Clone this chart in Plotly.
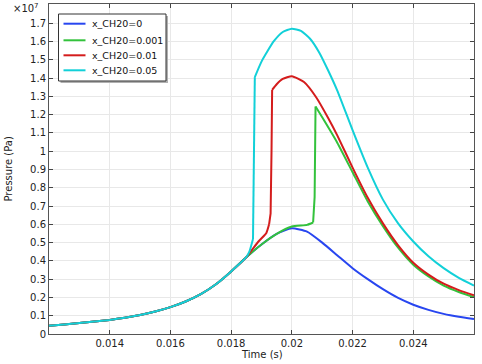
import plotly.graph_objects as go

# Time (s) and pressure (x 1e7 Pa)
t_base = [0.012, 0.0125, 0.013, 0.0135, 0.014, 0.0145, 0.015, 0.0155, 0.016, 0.0165,
          0.017, 0.0175, 0.018, 0.0185]
p_base = [0.045, 0.052, 0.060, 0.068, 0.077, 0.089, 0.104, 0.123, 0.147, 0.178,
          0.218, 0.272, 0.342, 0.420]

t_blue = t_base + [0.019, 0.0195, 0.020, 0.0205, 0.021, 0.0215, 0.022, 0.0225, 0.023,
                   0.0235, 0.024, 0.0245, 0.025, 0.0255, 0.026]
p_blue = p_base + [0.490, 0.548, 0.578, 0.560, 0.500, 0.430, 0.360, 0.300, 0.245,
                   0.197, 0.160, 0.132, 0.110, 0.094, 0.082]

t_green = t_base + [0.019, 0.0195, 0.020, 0.0205, 0.0207, 0.02075, 0.02078, 0.021,
                    0.0215, 0.022, 0.0225, 0.023, 0.0235, 0.024, 0.0245, 0.025, 0.0255, 0.026]
p_green = p_base + [0.490, 0.548, 0.588, 0.597, 0.610, 0.750, 1.244, 1.185,
                    1.045, 0.885, 0.725, 0.590, 0.472, 0.379, 0.315, 0.265, 0.230, 0.202]

t_red = t_base + [0.0189, 0.01916, 0.01925, 0.0193, 0.01933, 0.01935, 0.0195, 0.0197,
                  0.020, 0.0204, 0.0208, 0.0212, 0.0215, 0.022, 0.0225, 0.023, 0.0235,
                  0.024, 0.0245, 0.025, 0.0255, 0.026]
p_red = p_base + [0.506, 0.553, 0.600, 0.660, 1.000, 1.335, 1.366, 1.395,
                  1.410, 1.378, 1.295, 1.180, 1.085, 0.910, 0.745, 0.605, 0.485,
                  0.390, 0.325, 0.275, 0.240, 0.212]

t_cyan = t_base + [0.0186, 0.01872, 0.01876, 0.01878, 0.0190, 0.0194, 0.0197, 0.020,
                   0.0203, 0.0206, 0.0209, 0.0212, 0.0215, 0.022, 0.0225, 0.023, 0.0235,
                   0.024, 0.0245, 0.025, 0.0255, 0.026]
p_cyan = p_base + [0.450, 0.520, 1.000, 1.405, 1.490, 1.600, 1.652, 1.670,
                   1.658, 1.615, 1.540, 1.440, 1.330, 1.115, 0.910, 0.735, 0.605,
                   0.506, 0.425, 0.360, 0.307, 0.265]

# time interval of the steep pressure jump (start, end) for each case; None = no jump
jumps = [None, (0.0207, 0.02078), (0.01925, 0.01935), (0.01872, 0.01878)]

x_ticks = [0.014, 0.016, 0.018, 0.02, 0.022, 0.024]
x_ticktext = ["0.014", "0.016", "0.018", "0.02", "0.022", "0.024"]

names = ["x_CH20=0", "x_CH20=0.001", "x_CH20=0.01", "x_CH20=0.05"]
colors = ["#2846f0", "#33c23c", "#d41c1c", "#12d0d8"]
series = [(t_blue, p_blue), (t_green, p_green), (t_red, p_red), (t_cyan, p_cyan)]

fig = go.Figure()
for (tx, py), nm, c, jp in zip(series, names, colors, jumps):
    if jp is None:
        parts = [(tx, py, "spline")]
    else:
        i0, i1 = tx.index(jp[0]), tx.index(jp[1])
        parts = [(tx[:i0 + 1], py[:i0 + 1], "spline"),
                 (tx[i0:i1 + 1], py[i0:i1 + 1], "linear"),
                 (tx[i1:], py[i1:], "spline")]
    for k, (px, pv, shp) in enumerate(parts):
        fig.add_trace(go.Scatter(x=px, y=pv, mode="lines", name=nm, legendgroup=nm,
                                 showlegend=False,
                                 line=dict(color=c, width=2, shape=shp, smoothing=0.5)))

# Legend box drawn in paper coordinates (COMSOL-style with a drop shadow)
W, H, L, T = 425.0, 330.0, 49.0, 4.0
def px(x):
    return (x - L) / W
def py_(y):
    return (H + T - y) / H

shapes = [
    dict(type="rect", xref="paper", yref="paper", layer="above",
         x0=px(60.5), x1=px(168), y0=py_(83), y1=py_(16),
         fillcolor="#b0b0b0", line=dict(width=0)),
    dict(type="rect", xref="paper", yref="paper", layer="above",
         x0=px(58.5), x1=px(166), y0=py_(81), y1=py_(14),
         fillcolor="white", line=dict(color="#333", width=1)),
]
annots = []
entry_y = [23.7, 40.3, 55.3, 70.3]
for nm, c, ey in zip(names, colors, entry_y):
    shapes.append(dict(type="line", xref="paper", yref="paper", layer="above",
                       x0=px(63.5), x1=px(85.5), y0=py_(ey), y1=py_(ey),
                       line=dict(color=c, width=2)))
    annots.append(dict(text=nm, xref="paper", yref="paper", x=px(90), y=py_(ey),
                       xanchor="left", yanchor="middle", showarrow=False,
                       font=dict(size=9.5, color="#111")))

font = "DejaVu Sans, sans-serif"
axis_common = dict(ticks="inside", ticklen=4, tickcolor="#444", mirror="allticks",
                   showline=True, linecolor="#555", linewidth=1,
                   showgrid=True, gridcolor="#e8e8e8", zeroline=False, automargin=False)
fig.update_layout(
    width=482, height=364,
    margin=dict(l=49, r=8, t=4, b=30),
    paper_bgcolor="white", plot_bgcolor="white",
    font=dict(family=font, size=10, color="#222"),
    showlegend=False,
    xaxis=dict(range=[0.012, 0.026], tickvals=x_ticks, ticktext=x_ticktext, **axis_common),
    yaxis=dict(range=[0, 1.805], dtick=0.1, tick0=0, **axis_common),
    shapes=shapes,
    annotations=annots + [
        dict(text="×10<sup>7</sup>", xref="paper", yref="paper", x=-0.02, y=1.0,
             xanchor="right", yanchor="top", showarrow=False, font=dict(size=10), yshift=4),
        dict(text="Time (s)", xref="paper", yref="paper", x=0.5, y=0,
             xanchor="center", yanchor="top", showarrow=False, font=dict(size=10), yshift=-13),
        dict(text="Pressure (Pa)", xref="paper", yref="paper", x=-0.0976, y=0.5,
             xanchor="center", yanchor="middle", showarrow=False, textangle=-90,
             font=dict(size=10)),
    ],
)
fig.write_html("out.html", config={"displayModeBar": False},
               post_script="document.body.style.margin='0';document.body.style.padding='0';")
